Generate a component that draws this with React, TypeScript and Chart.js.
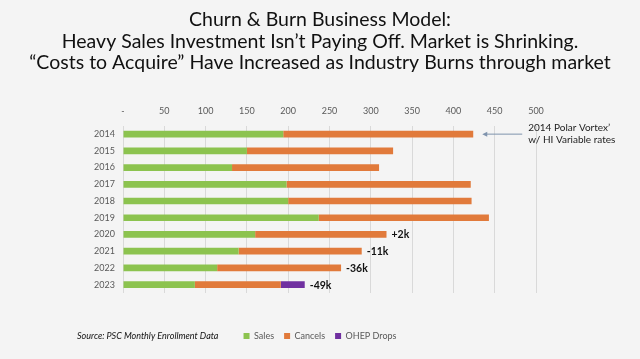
import React, { useEffect, useRef } from "react";
import { Chart, registerables } from "chart.js";

Chart.register(...registerables);

const years = ["2014", "2015", "2016", "2017", "2018", "2019", "2020", "2021", "2022", "2023"];
const sales = [194, 150, 132, 198, 200, 237, 160, 140, 114, 87];
const cancels = [230, 177, 178, 223, 222, 206, 159, 149, 150, 104];
const ohepDrops = [0, 0, 0, 0, 0, 0, 0, 0, 0, 29];
const changeLabels = ["", "", "", "", "", "", "+2k", "-11k", "-36k", "-49k"];
const titleLines = [
  "Churn & Burn Business Model:",
  "Heavy Sales Investment Isn\u2019t Paying Off. Market is Shrinking.",
  "\u201cCosts to Acquire\u201d Have Increased as Industry Burns through market",
];
const annotationLines = ["2014 Polar Vortex\u2019", "w/ HI Variable rates"];
const sourceText = "Source: PSC Monthly Enrollment Data";

const GREEN = "#8cc34f";
const ORANGE = "#e17a3b";
const PURPLE = "#7030a0";
const BG = "#f4f4f4";
const FONT = "Lato, 'Open Sans', sans-serif";

const extrasPlugin = {
  id: "extras",
  beforeDraw(chart: any) {
    const { ctx, width, height } = chart;
    ctx.save();
    ctx.fillStyle = BG;
    ctx.fillRect(0, 0, width, height);
    ctx.restore();
  },
  afterDatasetsDraw(chart: any) {
    const { ctx } = chart;
    const xs = chart.scales.x;
    const ys = chart.scales.y;
    ctx.save();
    // change labels
    ctx.font = `bold 10.5px ${FONT}`;
    ctx.fillStyle = "#111";
    ctx.textBaseline = "middle";
    ctx.textAlign = "left";
    changeLabels.forEach((lbl, i) => {
      if (!lbl) return;
      const total = sales[i] + cancels[i] + ohepDrops[i];
      ctx.fillText(lbl, xs.getPixelForValue(total) + 5, ys.getPixelForValue(i) + 0.5);
    });
    // annotation arrow
    const total0 = sales[0] + cancels[0] + ohepDrops[0];
    const tip = xs.getPixelForValue(total0) + 9;
    const tail = tip + 40;
    const yy = ys.getPixelForValue(0);
    ctx.strokeStyle = "#7f93ad";
    ctx.fillStyle = "#7f93ad";
    ctx.lineWidth = 1;
    ctx.beginPath();
    ctx.moveTo(tail, yy);
    ctx.lineTo(tip + 3, yy);
    ctx.stroke();
    ctx.beginPath();
    ctx.moveTo(tip, yy);
    ctx.lineTo(tip + 5, yy - 2.5);
    ctx.lineTo(tip + 5, yy + 2.5);
    ctx.closePath();
    ctx.fill();
    ctx.fillStyle = "#222";
    ctx.font = `10px ${FONT}`;
    ctx.textBaseline = "middle";
    ctx.fillText(annotationLines[0], tail + 6, yy - 6);
    ctx.fillText(annotationLines[1], tail + 6, yy + 6);
    // source
    ctx.font = `italic 9px ${FONT}`;
    ctx.fillStyle = "#111";
    ctx.fillText(sourceText, 77, 336);
    ctx.restore();
  },
};

export default function App() {
  const ref = useRef<HTMLCanvasElement | null>(null);
  useEffect(() => {
    if (!ref.current) return;
    const chart = new Chart(ref.current, {
      type: "bar",
      data: {
        labels: years,
        datasets: [
          { label: "Sales", data: sales, backgroundColor: GREEN, xAxisID: "x", yAxisID: "y" },
          { label: "Cancels", data: cancels, backgroundColor: ORANGE, xAxisID: "x", yAxisID: "y" },
          { label: "OHEP Drops", data: ohepDrops, backgroundColor: PURPLE, xAxisID: "x", yAxisID: "y" },
        ],
      },
      options: {
        indexAxis: "y",
        animation: false,
        responsive: false,
        maintainAspectRatio: false,
        layout: { padding: { top: 0, left: 0, right: 0, bottom: 8.5 } },
        datasets: { bar: { barPercentage: 0.4, categoryPercentage: 1 } },
        scales: {
          x: {
            type: "linear",
            position: "top",
            stacked: true,
            min: 0,
            max: 500,
            ticks: {
              stepSize: 50,
              padding: 9,
              color: "#595959",
              font: { family: FONT, size: 9 },
              callback: (v: any) => (v === 0 ? "-" : String(v)),
            },
            grid: { color: "#d9d9d9", drawTicks: false, lineWidth: 1 },
            border: { display: false },
          },
          y: {
            type: "category",
            position: "left",
            stacked: true,
            ticks: { padding: 8, color: "#595959", font: { family: FONT, size: 9 } },
            grid: { display: false, drawTicks: false },
            border: { display: false },
            afterFit: (s: any) => {
              s.width = 123;
            },
          },
          yR: {
            type: "linear",
            position: "right",
            display: true,
            ticks: { display: false },
            grid: { display: false, drawTicks: false },
            border: { display: false },
            afterFit: (s: any) => {
              s.width = 104;
            },
          },
        },
        plugins: {
          title: {
            display: true,
            text: titleLines,
            color: "#111",
            font: { family: FONT, size: 19.5, weight: "normal", lineHeight: 1.09 },
            padding: { top: 9.4, bottom: 23.8 },
          },
          legend: {
            display: true,
            position: "bottom",
            title: { display: true, text: " ", font: { size: 10 }, padding: { top: 16.5, bottom: 0 } },
            labels: {
              boxWidth: 6,
              boxHeight: 6,
              padding: 10,
              color: "#595959",
              font: { family: FONT, size: 9 },
            },
          },
          tooltip: { enabled: false },
        },
      },
      plugins: [extrasPlugin],
    } as any);
    return () => chart.destroy();
  }, []);
  return (
    <div style={{ position: "absolute", left: 0, top: 0, width: 640, height: 359, background: BG }}>
      <canvas ref={ref} width={640} height={359} style={{ width: 640, height: 359, display: "block" }} />
    </div>
  );
}
